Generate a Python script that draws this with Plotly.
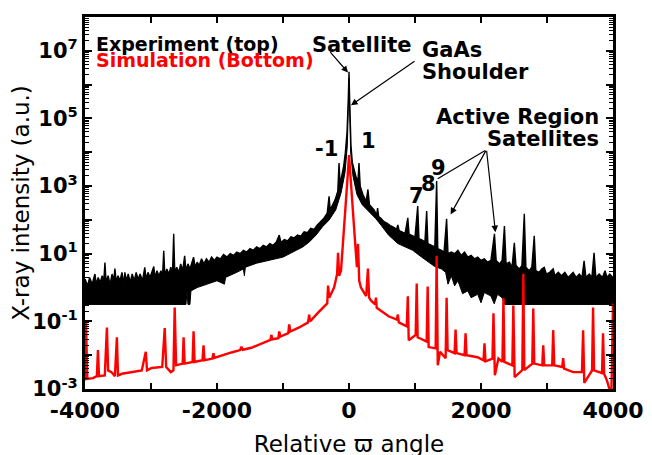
import plotly.graph_objects as go

# ---------------- data ----------------
# Simulation (red): relative omega angle and log10 intensity
sim_x = [-4000, -3985, -3965, -3880, -3820, -3804, -3788, -3700, -3668, -3650, -3600, -3547, -3517, -3500,
         -3440, -3300, -3140, -3079, -3060, -2989, -2830, -2792, -2770, -2700, -2660, -2641, -2620, -2520,
         -2506, -2490, -2370, -2355, -2340, -2220, -2204, -2190, -2070, -2053, -2040, -1781, -1650, -1630,
         -1610, -1479, -1328, -1190, -1177, -1160, -1070, -1057, -1040, -920, -906, -890, -755, -620, -604,
         -590, -468, -330, -317, -300, -226, -180, -166, -150, -121, -91, -75, -45, -20, 0, 20, 60, 91,
         120, 136, 155, 181, 260, 287, 305, 332, 395, 408, 420, 483, 600, 725, 740, 755, 875, 891, 905,
         1010, 1026, 1040, 1177, 1192, 1207, 1313, 1328, 1345, 1380, 1464, 1479, 1494, 1600, 1615, 1630,
         1751, 1766, 1781, 1947, 2038, 2053, 2068, 2174, 2189, 2210, 2264, 2325, 2340, 2355, 2475, 2490,
         2510, 2626, 2641, 2656, 2777, 2792, 2807, 2928, 2943, 2958, 3079, 3094, 3110, 3230, 3245, 3260,
         3396, 3530, 3547, 3565, 3683, 3698, 3713, 3834, 3849, 3865, 3909, 3975, 4000]
sim_log10 = [-2.75, -1.05, -2.7, -2.68, -2.62, -1.85, -2.62, -2.6, -1.18, -2.45, -2.5, -2.62, -1.47, -2.6,
             -2.55, -2.5, -2.45, -1.9, -2.45, -2.38, -2.35, -1.2, -2.35, -2.5, -2.45, -0.59, -2.3, -2.25,
             -1.47, -2.25, -2.2, -1.29, -2.2, -2.15, -1.71, -2.15, -2.1, -1.94, -2.08, -1.92, -1.85, -1.75,
             -1.84, -1.78, -1.65, -1.55, -1.4, -1.53, -1.5, -1.3, -1.45, -1.35, -1.09, -1.3, -1.18, -1.03, -0.8,
             -1.0, -0.74, -0.47, 0.06, -0.3, 0.0, 0.4, 1.03, 0.35, 0.5, 1.29, 1.6, 2.56, 3.3, 3.92, 3.3, 2.35, 1.38,
             0.6, 1.29, 0.2, 0.0, -0.25, 0.56, -0.3, -0.38, -0.5, -0.3, -0.6, -0.68, -0.85, -0.95, -0.8, -1.03,
             -1.15, -0.26, -1.56, -1.4, 0.12, -1.47, -1.6, 0.03, -1.76, -1.8, 0.94, -2.3, -1.9, -2.09, -0.3, -1.85,
             -1.94, -1.24, -1.94, -2.0, -1.35, -2.0, -2.06, -2.15, -1.65, -2.18, -2.1, -0.76, -2.59, -2.1, -2.2,
             -0.32, -2.2, -2.3, -0.53, -2.65, -2.44, 0.41, -2.44, -2.25, -0.62, -2.25, -2.3, -1.71, -2.3, -2.3,
             -1.26, -2.3, -2.35, -2.09, -2.4, -2.5, -2.5, -1.26, -2.82, -2.45, -0.59, -2.45, -2.53, -1.35, -2.55,
             -2.75, -3.2, -0.47]

# Experiment (black): upper and lower edges of the noisy trace, log10 intensity
exp_hi_x = [-4000, -3960, -3930, -3890, -3865, -3849, -3830, -3800, -3770, -3740, -3715, -3698, -3680, -3650,
            -3620, -3590, -3565, -3547, -3525, -3500, -3470, -3440, -3410, -3396, -3375, -3345, -3315, -3285,
            -3255, -3225, -3195, -3165, -3130, -3094, -3075, -3045, -3015, -2985, -2958, -2940, -2910, -2880,
            -2850, -2825, -2807, -2790, -2760, -2730, -2700, -2675, -2656, -2640, -2610, -2580, -2550, -2520,
            -2490, -2470, -2440, -2410, -2380, -2355, -2330, -2300, -2270, -2234, -2200, -2160, -2120, -2083,
            -2040, -2000, -1950, -1900, -1850, -1800, -1750, -1700, -1650, -1600, -1550, -1500, -1450, -1400,
            -1350, -1300, -1250, -1200, -1150, -1100, -1057, -1030, -980, -930, -880, -830, -780, -730, -680,
            -630, -580, -530, -480, -430, -380, -330, -302, -285, -250, -210, -170, -151, -135, -110, -80, -55,
            -30, -12, 0, 12, 30, 50, 75, 110, 136, 151, 170, 211, 260, 287, 310, 350, 377, 420, 433, 450, 483,
            530, 580, 634, 680, 720, 740, 760, 800, 850, 891, 910, 966, 1000, 1041, 1060, 1110, 1150, 1177,
            1195, 1250, 1300, 1328, 1345, 1400, 1440, 1479, 1500, 1550, 1600, 1650, 1700, 1750, 1800, 1850,
            1900, 1950, 2000, 2050, 2100, 2150, 2204, 2230, 2280, 2320, 2355, 2380, 2430, 2470, 2505, 2530,
            2580, 2620, 2656, 2680, 2730, 2770, 2807, 2830, 2880, 2920, 2958, 2990, 3040, 3094, 3120, 3170,
            3220, 3270, 3320, 3396, 3440, 3490, 3530, 3562, 3590, 3640, 3680, 3713, 3740, 3790, 3840, 3879,
            3910, 3950, 4000]
exp_hi_log10 = [0.25, 0.05, 0.3, 0.1, 0.3, 0.4, 0.1, 0.3, 0.15, 0.35, 0.2, 0.74, 0.15, 0.35,
                0.1, 0.4, 0.2, 0.56, 0.15, 0.35, 0.2, 0.45, 0.1, 0.45, 0.2, 0.4, 0.15, 0.4,
                0.2, 0.45, 0.25, 0.4, 0.2, 0.6, 0.25, 0.45, 0.3, 0.45, 0.62, 0.3, 0.5, 0.35,
                0.5, 0.35, 1.09, 0.35, 0.55, 0.4, 0.6, 0.4, 1.59, 0.45, 0.6, 0.45, 0.7, 0.5,
                0.94, 0.5, 0.7, 0.55, 0.75, 0.9, 0.6, 0.75, 0.65, 0.85, 0.7, 0.85, 0.75, 0.9,
                0.8, 0.9, 0.85, 0.98, 0.9, 1.0, 0.95, 1.05, 1.0, 1.1, 1.05, 1.15, 1.1, 1.2,
                1.15, 1.25, 1.2, 1.3, 1.25, 1.35, 1.55, 1.33, 1.42, 1.38, 1.5, 1.47, 1.55, 1.52, 1.65,
                1.62, 1.75, 1.72, 1.85, 1.95, 2.05, 2.2, 2.7, 2.3, 2.45, 2.6, 2.85, 3.68, 3.05, 3.3, 3.6, 4.0,
                4.6, 5.5, 6.38, 5.4, 4.2, 3.7, 3.5, 3.25, 3.15, 3.68, 3.0, 2.75, 2.55, 2.9, 2.45, 2.35, 2.3, 2.15, 2.35, 2.1, 2.05,
                1.95, 1.9, 1.82, 1.78, 1.72, 1.85, 1.68, 1.65, 1.6, 2.06, 1.58, 1.53, 1.5, 2.41, 1.45, 1.4, 1.35, 2.26,
                1.3, 1.25, 1.2, 3.15, 1.15, 1.1, 1.05, 2.03, 1.0, 1.05, 1.0, 1.1, 0.95, 1.05, 0.9, 0.95,
                0.85, 0.9, 0.8, 0.85, 0.75, 0.8, 1.59, 0.8, 0.7, 0.8, 1.82, 0.7, 0.75, 0.6, 1.32, 0.65,
                0.55, 0.65, 2.18, 0.6, 0.5, 0.6, 1.53, 0.5, 0.45, 0.55, 0.6, 0.4, 0.45, 0.55, 0.35, 0.45,
                0.35, 0.45, 0.3, 0.45, 0.3, 0.4, 0.3, 0.79, 0.3, 0.4, 0.3, 1.03, 0.3, 0.4, 0.3, 0.5,
                0.3, 0.4, 0.3]
exp_lo_x = [-4000, -2470, -2455, -2440, -2410, -2395, -2300, -2150, -2000, -1887, -1870, -1700, -1600,
            -1585, -1570, -1400, -1200, -1000, -800, -700, -600, -500, -400, -300, -200, -120, -60, -25, 0,
            25, 60, 120, 200, 300, 400, 483, 600, 740, 850, 966, 1100, 1207, 1300, 1400, 1464, 1500, 1550,
            1600, 1650, 1721, 1800, 1850, 1950, 2000, 2050, 2150, 2200, 2250, 2320, 2360, 4000]
exp_lo_log10 = [-0.5, -0.5, -0.1, -0.5, -0.5, -0.1, 0.0, 0.1, 0.2, 0.1, 0.3, 0.45, 0.55,
                0.35, 0.6, 0.72, 0.8, 0.9, 1.1, 1.2, 1.35, 1.55, 1.8, 2.0, 2.3, 2.8, 3.4, 4.2, 6.2,
                4.0, 3.3, 2.75, 2.45, 2.25, 2.05, 1.85, 1.55, 1.3, 1.2, 1.1, 0.9, 0.74, 0.62, 0.55, 0.45, 0.1, 0.35,
                0.05, 0.2, -0.18, -0.1, -0.3, -0.2, -0.45, -0.15, -0.25, -0.48, -0.2, -0.3, -0.5, -0.5]

x_tick_vals = [-4000, -3000, -2000, -1000, 0, 1000, 2000, 3000, 4000]
x_tick_text = ["-4000", "", "-2000", "", "0", "", "2000", "", "4000"]
y_decades = [-3, -2, -1, 0, 1, 2, 3, 4, 5, 6, 7, 8]
y_labelled = [-3, -1, 1, 3, 5, 7]

# ---------------- figure ----------------
FONT = "DejaVu Sans"
fig = go.Figure()

fig.add_trace(go.Scatter(x=exp_lo_x, y=[10 ** v for v in exp_lo_log10], mode="lines",
                         line=dict(color="black", width=1), showlegend=False, hoverinfo="skip"))
fig.add_trace(go.Scatter(x=exp_hi_x, y=[10 ** v for v in exp_hi_log10], mode="lines",
                         line=dict(color="black", width=1.4), fill="tonexty", fillcolor="black",
                         showlegend=False, name="Experiment"))
fig.add_trace(go.Scatter(x=sim_x, y=[10 ** v for v in sim_log10], mode="lines",
                         line=dict(color="#ff0000", width=2.4), showlegend=False, name="Simulation"))

y_tick_vals = [10.0 ** d for d in y_decades]
y_tick_text = [("10<sup>%d</sup>" % d) if d in y_labelled else "" for d in y_decades]
minor_vals = [m * 10.0 ** d for d in y_decades[:-1] for m in range(2, 10)]

fig.update_xaxes(range=[-4000, 4000], tickmode="array", tickvals=x_tick_vals, ticktext=x_tick_text,
                 ticks="inside", ticklen=6, tickwidth=2, tickcolor="black",
                 showline=True, linewidth=3, linecolor="black", mirror="allticks",
                 showgrid=False, zeroline=False,
                 tickfont=dict(family=FONT, size=22, color="black", weight="bold"),
                 title=dict(text="Relative \u03d6 angle", font=dict(family=FONT, size=23, color="black"),
                            standoff=14))
fig.update_yaxes(type="log", range=[-3, 8], tickmode="array", tickvals=y_tick_vals, ticktext=y_tick_text,
                 ticks="inside", ticklen=7, tickwidth=2, tickcolor="black",
                 minor=dict(tickmode="array", tickvals=minor_vals, ticks="inside", ticklen=4,
                            tickwidth=1, tickcolor="black", showgrid=False),
                 showline=True, linewidth=3, linecolor="black", mirror="allticks",
                 showgrid=False, zeroline=False,
                 tickfont=dict(family=FONT, size=21, color="black", weight="bold"),
                 title=dict(text="X-ray intensity (a.u.)", font=dict(family=FONT, size=23, color="black"),
                            standoff=2))

# plot area on screen in pixels: x 83..613, y 14..389
def px(xp):
    return (xp - 83) / 530.0

def py(yp):
    return (389 - yp) / 375.0

bold = dict(family=FONT, size=21, color="black", weight="bold")
legend_font = dict(family=FONT, size=19, color="black", weight="bold")
texts = [
    ("Experiment (top)", 92, 41, "left", legend_font),
    ("Simulation (Bottom)", 92, 57, "left", dict(family=FONT, size=19, color="#ff0000", weight="bold")),
    ("Satellite", 309, 42, "left", bold),
    ("GaAs", 419, 47, "left", bold),
    ("Shoulder", 419, 69, "left", bold),
    ("Active Region", 601, 115, "right", bold),
    ("Satellites", 601, 137, "right", bold),
    ("-1", 312, 147, "left", bold),
    ("1", 358, 139, "left", bold),
    ("7", 406, 194, "left", bold),
    ("8", 418, 182, "left", bold),
    ("9", 428, 166, "left", bold),
]
for t, xp, yp, anch, f in texts:
    fig.add_annotation(text=t, x=px(xp), y=py(yp), xref="paper", yref="paper", xanchor=anch,
                       yanchor="middle", showarrow=False, font=f)

arrows = [
    (347, 70, 328, 48, 2),
    (350, 103, 415, 58, 2),
    (437, 177, 486, 148, 0),
    (450, 213, 486, 148, 2),
    (495, 231, 486, 148, 2),
]
for tx, ty, sx, sy, head in arrows:
    fig.add_annotation(text="", x=px(tx), y=py(ty), xref="paper", yref="paper",
                       ax=sx - tx, ay=sy - ty, showarrow=True, arrowhead=head, arrowsize=1.1,
                       arrowwidth=1.2, arrowcolor="black")

# the page adds an 8 px offset, so margins are shifted to keep the plot area at 83..613 x 14..389
fig.update_layout(width=652, height=455, margin=dict(l=75, r=47, t=6, b=74),
                  paper_bgcolor="white", plot_bgcolor="white", showlegend=False,
                  font=dict(family=FONT, color="black"))

fig.write_html("out.html")
